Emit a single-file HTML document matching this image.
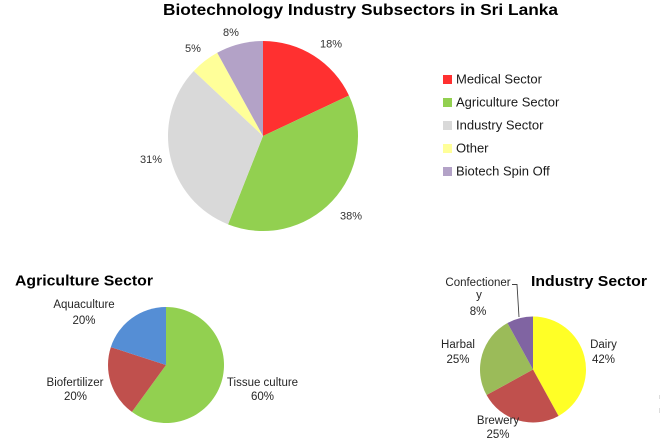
<!DOCTYPE html>
<html>
<head>
<meta charset="utf-8">
<style>
html,body{margin:0;padding:0;background:#fff;}
svg{display:block;}
text{font-family:"Liberation Sans",sans-serif;}
</style>
</head>
<body>
<svg width="660" height="440" viewBox="0 0 660 440" xmlns="http://www.w3.org/2000/svg">
<rect width="660" height="440" fill="#fff"/>
<!-- Title -->
<text x="163" y="15" font-size="15.5" font-weight="bold" fill="#000" textLength="395" lengthAdjust="spacingAndGlyphs">Biotechnology Industry Subsectors in Sri Lanka</text>

<!-- Main pie -->
<path d="M263,136 L263,41 A95,95 0 0 1 348.96,95.55 Z" fill="#FF3030"/>
<path d="M263,136 L348.96,95.55 A95,95 0 0 1 228.03,224.33 Z" fill="#92D050"/>
<path d="M263,136 L228.03,224.33 A95,95 0 0 1 193.75,70.97 Z" fill="#D9D9D9"/>
<path d="M263,136 L193.75,70.97 A95,95 0 0 1 217.23,52.75 Z" fill="#FFFF99"/>
<path d="M263,136 L217.23,52.75 A95,95 0 0 1 263,41 Z" fill="#B3A2C7"/>

<g font-size="11" fill="#333">
<text x="320" y="47.5">18%</text>
<text x="340" y="219.5">38%</text>
<text x="140" y="163">31%</text>
<text x="185" y="52">5%</text>
<text x="223" y="36">8%</text>
</g>

<!-- Legend -->
<g font-size="13" fill="#1a1a1a">
<rect x="443" y="75" width="9" height="9" fill="#FF3030"/>
<text x="456" y="83.5">Medical Sector</text>
<rect x="443" y="98" width="9" height="9" fill="#92D050"/>
<text x="456" y="106.5">Agriculture Sector</text>
<rect x="443" y="121" width="9" height="9" fill="#D9D9D9"/>
<text x="456" y="129.5">Industry Sector</text>
<rect x="443" y="144" width="9" height="9" fill="#FFFF99"/>
<text x="456" y="152.5">Other</text>
<rect x="443" y="167" width="9" height="9" fill="#B3A2C7"/>
<text x="456" y="175.5">Biotech Spin Off</text>
</g>

<!-- Agriculture Sector -->
<text x="15" y="285.5" font-size="15" font-weight="bold" fill="#000" textLength="138" lengthAdjust="spacingAndGlyphs">Agriculture Sector</text>
<path d="M166,365 L166,307 A58,58 0 1 1 131.91,411.92 Z" fill="#92D050"/>
<path d="M166,365 L131.91,411.92 A58,58 0 0 1 110.84,347.08 Z" fill="#C0504D"/>
<path d="M166,365 L110.84,347.08 A58,58 0 0 1 166,307 Z" fill="#558ED5"/>
<g font-size="11.5" fill="#262626" text-anchor="middle">
<text x="84" y="308">Aquaculture</text>
<text x="84" y="324">20%</text>
<text x="75" y="386">Biofertilizer</text>
<text x="75.5" y="400">20%</text>
<text x="262.5" y="386">Tissue culture</text>
<text x="262.5" y="400">60%</text>
</g>

<!-- Industry Sector -->
<text x="531" y="286" font-size="15" font-weight="bold" fill="#000" textLength="116" lengthAdjust="spacingAndGlyphs">Industry Sector</text>
<path d="M533,369.5 L533,316.5 A53,53 0 0 1 558.54,415.94 Z" fill="#FFFF26"/>
<path d="M533,369.5 L558.54,415.94 A53,53 0 0 1 486.56,395.04 Z" fill="#C0504D"/>
<path d="M533,369.5 L486.56,395.04 A53,53 0 0 1 507.46,323.06 Z" fill="#9BBB59"/>
<path d="M533,369.5 L507.46,323.06 A53,53 0 0 1 533,316.5 Z" fill="#8064A2"/>
<polyline points="512,284.5 517,284.5 519,317" fill="none" stroke="#404040" stroke-width="0.9"/>
<g font-size="11.5" fill="#262626" text-anchor="middle">
<text x="478" y="286">Confectioner</text>
<text x="479" y="298.5">y</text>
<text x="478" y="315">8%</text>
<text x="458" y="348">Harbal</text>
<text x="458" y="363">25%</text>
<text x="603.5" y="348">Dairy</text>
<text x="603.5" y="363">42%</text>
<text x="498" y="424">Brewery</text>
<text x="498" y="438">25%</text>
</g>
<rect x="659" y="395" width="1" height="4" fill="#ddd"/>
<rect x="659" y="408" width="1" height="5" fill="#ddd"/>
</svg>
</body>
</html>
